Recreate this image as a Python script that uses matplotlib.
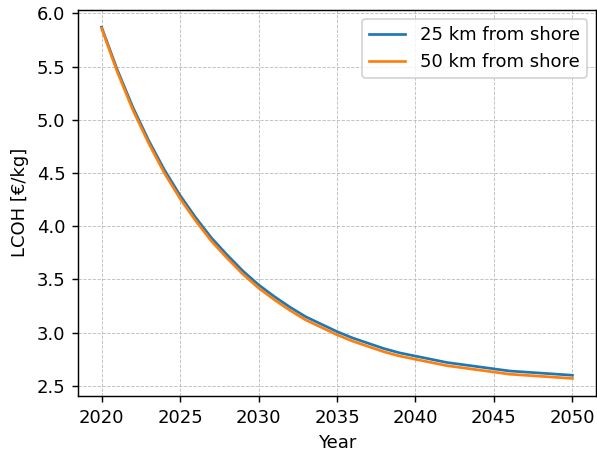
import numpy as np
import matplotlib.pyplot as plt

years = np.arange(2020, 2051)
lcoh_25km = [5.87, 5.47, 5.115, 4.805, 4.53, 4.29, 4.08, 3.89, 3.73, 3.58,
             3.45, 3.34, 3.24, 3.15, 3.08, 3.01, 2.95, 2.90, 2.85, 2.81,
             2.78, 2.75, 2.72, 2.70, 2.68, 2.66, 2.64, 2.63, 2.62, 2.61, 2.60]
lcoh_50km = [5.86, 5.45, 5.09, 4.78, 4.50, 4.26, 4.05, 3.86, 3.70, 3.55,
             3.42, 3.31, 3.21, 3.12, 3.05, 2.98, 2.92, 2.87, 2.82, 2.78,
             2.75, 2.72, 2.69, 2.67, 2.65, 2.63, 2.61, 2.60, 2.59, 2.58, 2.57]

# reference looks like it was rendered at ~1.3x scale, so use dpi 130
dpi = 130
fig = plt.figure(figsize=(597 / dpi, 453 / dpi), dpi=dpi)
ax = fig.add_axes([0.1307, 0.1258, 0.8676, 0.853])
ax.plot(years, lcoh_25km, label='25 km from shore')
ax.plot(years, lcoh_50km, label='50 km from shore')
ax.set_xlabel('Year')
ax.set_ylabel('LCOH [€/kg]')
ax.grid(True, linestyle='--', linewidth=0.5, alpha=0.8)
ax.legend()
fig.savefig('out.png', dpi=dpi)
